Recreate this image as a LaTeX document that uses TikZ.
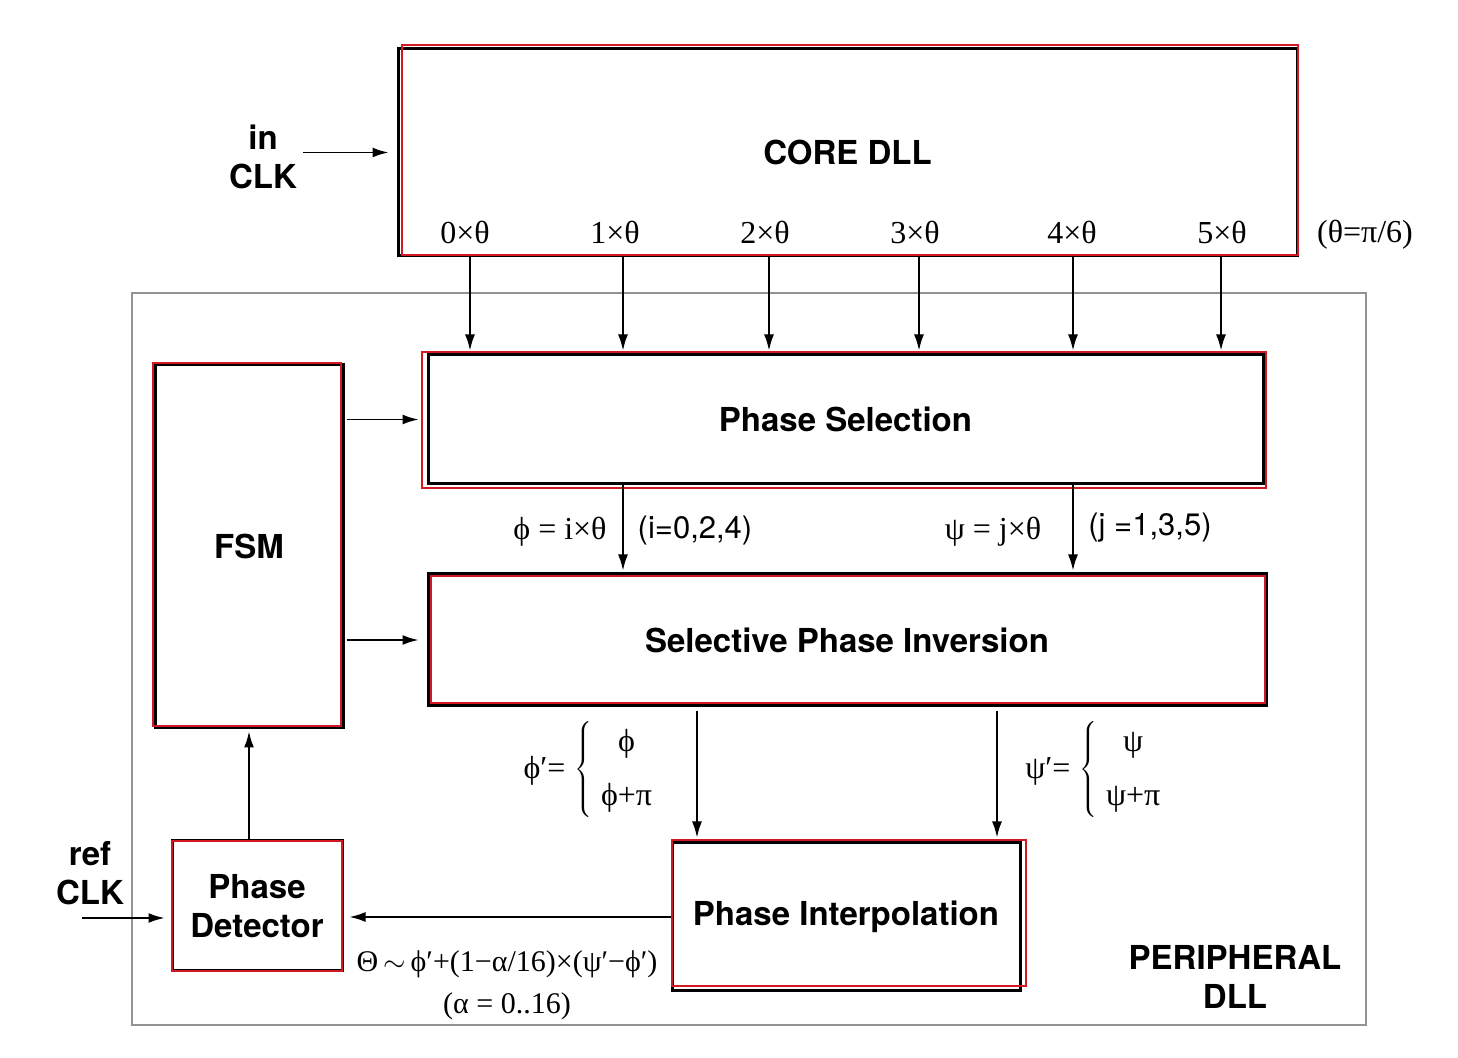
\documentclass[tikz,border=0pt]{standalone}
\usepackage{fontspec}
\setmainfont{Liberation Serif}
\setsansfont{TeX Gyre Heros}
\usetikzlibrary{arrows.meta}
\definecolor{framered}{RGB}{210,25,35}
\newcommand{\redframe}[4]{\draw[framered,line width=1pt] (#1,#2) rectangle (#3,#4);}

\begin{document}
\begin{tikzpicture}[x=.5pt,y=-.5pt,>={Latex[length=8pt,width=5pt]},
  block/.style={draw,line width=1.5pt,inner sep=0pt,align=center,font=\sffamily\bfseries\fontsize{16.5}{19.5}\selectfont},
  bold/.style={align=center,inner sep=1pt,font=\sffamily\bfseries\fontsize{16.5}{19.5}\selectfont},
  lbl/.style={inner sep=1pt,font=\fontsize{16}{21}\selectfont},
  slbl/.style={inner sep=1pt,font=\sffamily\fontsize{15.5}{18}\selectfont},
  wire/.style={->,line width=.9pt}]
\useasboundingbox (0,0) rectangle (1458,1058);
% peripheral DLL frame
\draw[gray!85,line width=1pt] (132,293) rectangle (1366,1025);
\node[bold] (periph) at (1235,977) {PERIPHERAL\\DLL};
% blocks
\node[block,minimum width=449.5pt,minimum height=103.5pt] (core) at (847.5,152.5) {CORE DLL};
\node[block,minimum width=417.5pt,minimum height=64.5pt] (ps) at (845.5,419.5) {Phase Selection};
\node[block,minimum width=419pt,minimum height=66pt] (spi) at (847,640) {Selective Phase Inversion};
\node[block,minimum width=94pt,minimum height=181.5pt] (fsm) at (249,546.5) {FSM};
\node[block,minimum width=85pt,minimum height=65pt] (pd) at (257,906) {Phase\\Detector};
\node[block,minimum width=174pt,minimum height=74pt] (pi) at (846,917) {Phase Interpolation};
% red outlines
\redframe{402}{45}{1298}{255}
\redframe{422}{352}{1266}{488}
\redframe{431}{576}{1265}{703}
\redframe{153}{363}{341}{726}
\redframe{172}{841}{342}{971}
\redframe{672}{840}{1026}{986}
% clocks in
\node[bold] (inclk) at (263,157) {in\\CLK};
\draw[wire] ([xshift=2pt]inclk.east |- core.west) -- ([xshift=-4pt]core.west);
\node[bold] (refclk) at (90,873) {ref\\CLK};
\coordinate (refin) at (82,918);
\draw[wire] (refin) -- ([xshift=-3pt]pd.west |- refin);
% taps of the core DLL
\foreach \k/\xa/\xl in {0/470/465,1/623/615,2/769/765,3/919/915,4/1073/1072,5/1221/1222}{
  \coordinate (t\k) at (\xa,0);
  \node[lbl] (ph\k) at (\xl,232) {\k×θ};
  \draw[wire] (core.south -| t\k) -- ([yshift=1.5pt]ps.north -| t\k);
}
\node[lbl] (theta) at (1365,235) {(θ=π/6)};
% FSM controls
\draw[wire] ([xshift=1pt]fsm.east |- ps.west) -- ([xshift=-4pt]ps.west);
\draw[wire] ([xshift=1pt]fsm.east |- spi.west) -- ([xshift=-4pt]spi.west);
% selected phases
\draw[wire] (ps.south -| t1) -- ([yshift=1pt]spi.north -| t1);
\draw[wire] (ps.south -| t4) -- ([yshift=1pt]spi.north -| t4);
\node[lbl] (phi) at (560,532) {ϕ = i×θ};
\node[slbl] (irange) at (695,530) {(i=0,2,4)};
\node[lbl] (psi) at (993,532) {ψ = j×θ};
\node[slbl] (jrange) at (1150,528) {(j =1,3,5)};
% inverted phases
\coordinate (pa) at (697,0);
\coordinate (pb) at (997,0);
\draw[wire] ([yshift=-2pt]spi.south -| pa) -- ([yshift=2pt]pi.north -| pa);
\draw[wire] ([yshift=-2pt]spi.south -| pb) -- ([yshift=2pt]pi.north -| pb);
\node[lbl] (phin) at (589,770) {ϕ′=\;$\left\{\begin{tabular}{@{\;}c@{}}ϕ\\[6pt]ϕ+π\end{tabular}\right.$};
\node[lbl] (psin) at (1094,770) {ψ′=\;$\left\{\begin{tabular}{@{\;}c@{}}ψ\\[6pt]ψ+π\end{tabular}\right.$};
% feedback loop
\draw[wire] (pi.west) -- ([xshift=3pt]pd.east |- pi.west);
\draw[wire] (pd.north -| fsm.south) -- ([yshift=-1pt]fsm.south);
\node[lbl,align=center,font=\fontsize{15}{21}\selectfont] (interp) at (507,985) {Θ\,$\sim$\,ϕ′+(1−α/16)×(ψ′−ϕ′)\\(α = 0..16)};
\end{tikzpicture}
\end{document}
